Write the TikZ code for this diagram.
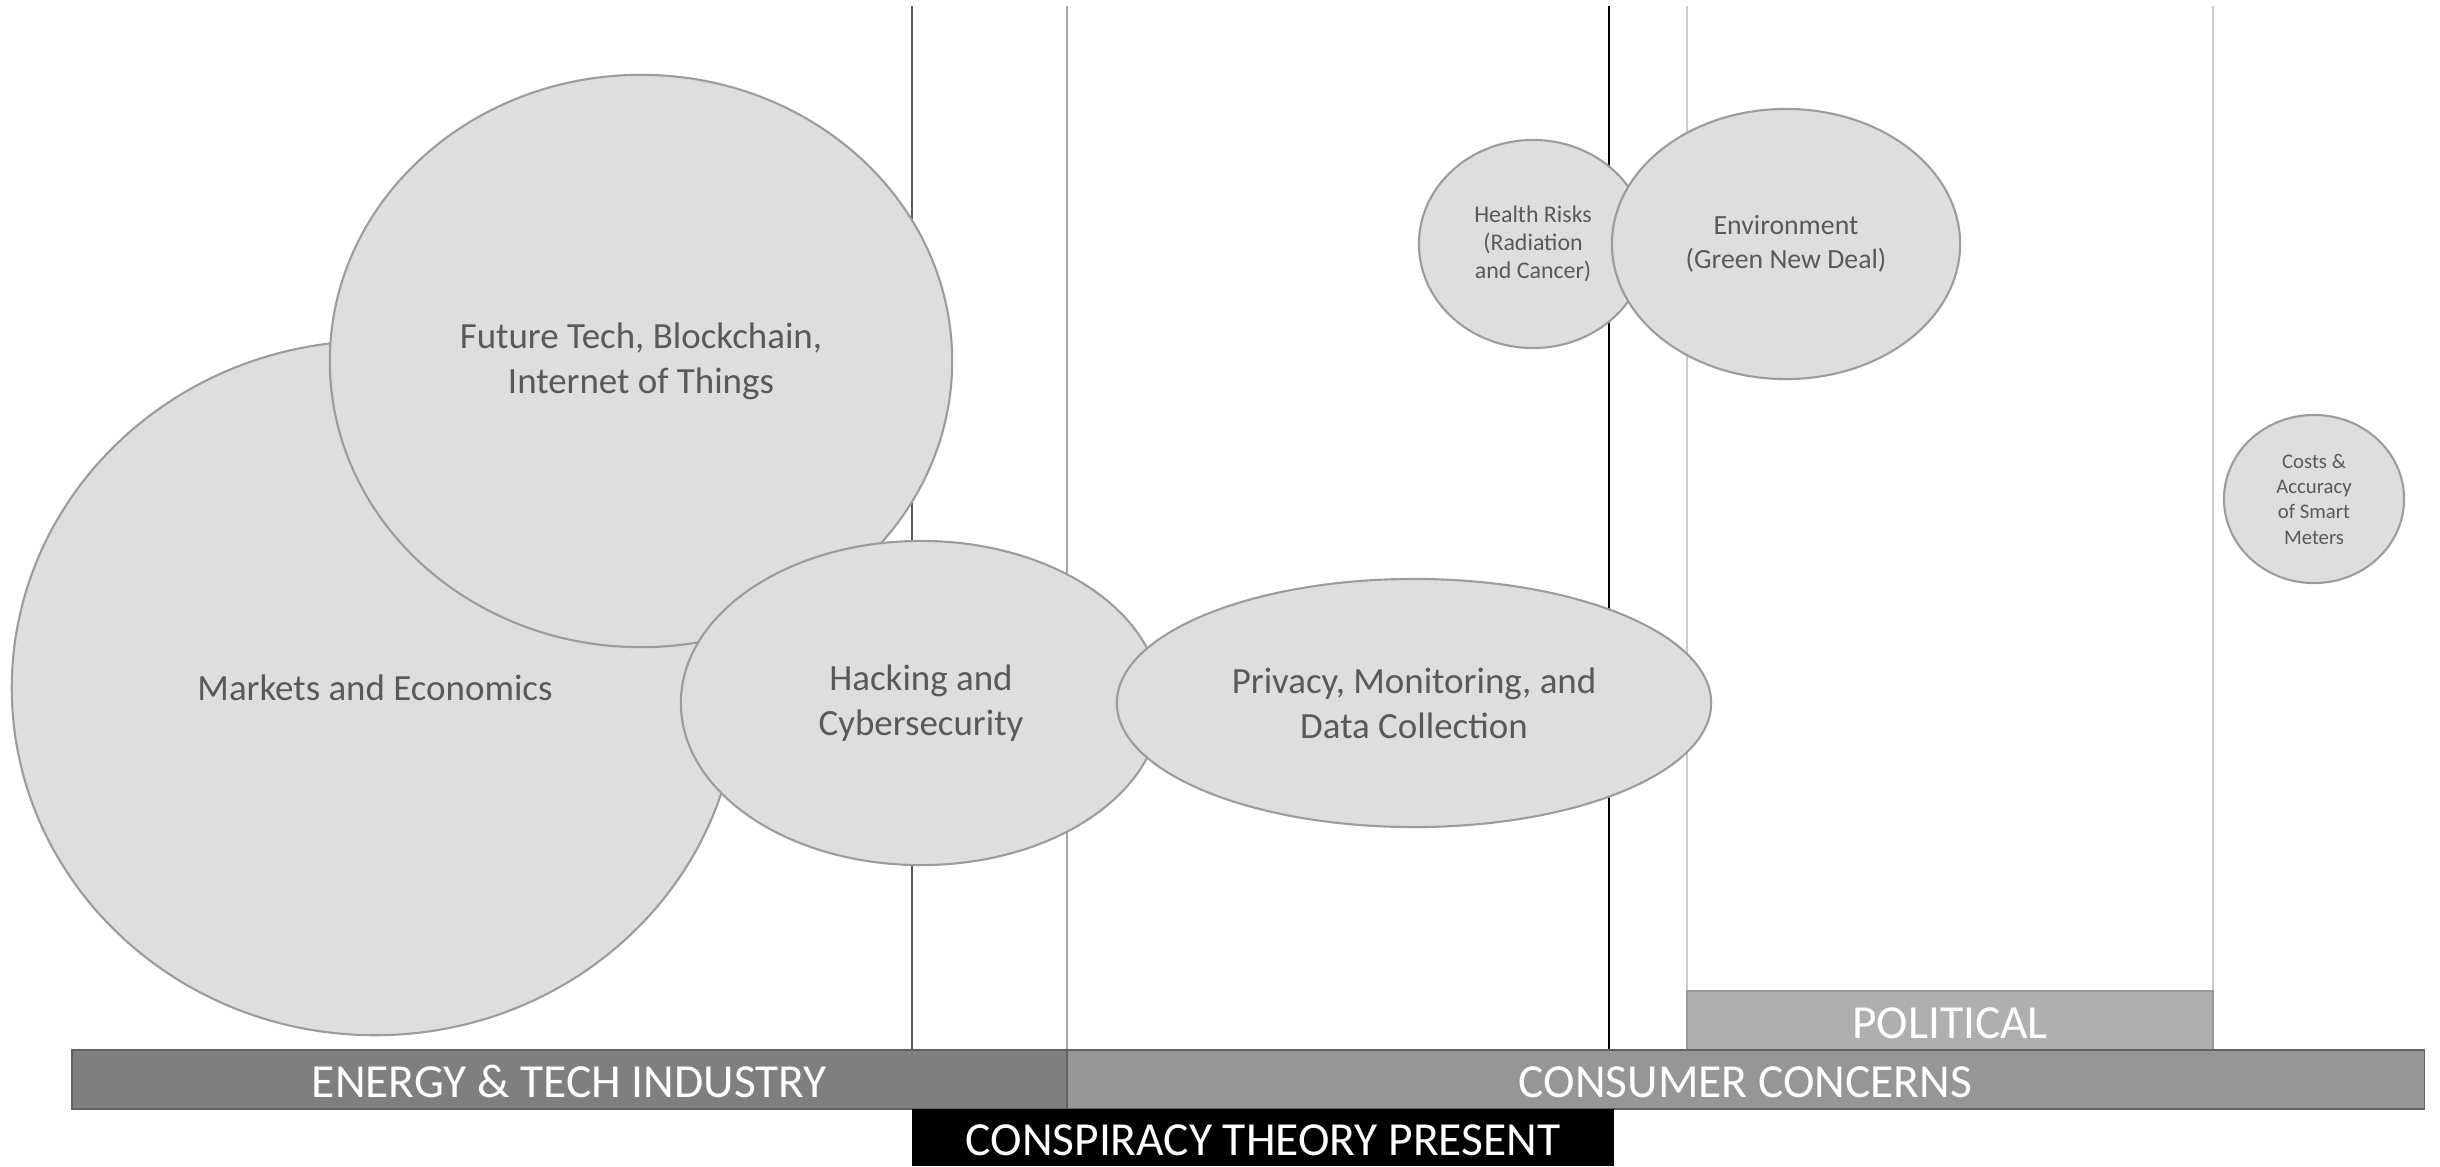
\documentclass[tikz,border=0pt]{standalone}
\usepackage{fontspec}
\setmainfont{Carlito}
\usetikzlibrary{shapes.geometric}

\definecolor{bubblefill}{HTML}{DEDEDE}
\definecolor{bubbleline}{HTML}{9C9C9C}
\definecolor{labeltext}{HTML}{595959}
\definecolor{energyfill}{HTML}{7F7F7F}
\definecolor{consumerfill}{HTML}{969696}
\definecolor{politicalfill}{HTML}{AFAFAF}

\tikzset{
  bubble/.style={ellipse, draw=bubbleline, fill=bubblefill, line width=0.6pt,
    inner sep=0pt, align=center, text=labeltext},
  bigtext/.style={font=\fontsize{10.5}{12.8}\selectfont},
  bar/.style={rectangle, inner sep=0pt, text=white, text height=10.4pt, text depth=0pt,
    font=\fontsize{13.5}{16}\selectfont}
}

\begin{document}
\begin{tikzpicture}[x=0.01cm, y=-0.01cm]

\useasboundingbox (0,0) rectangle (2440,1166);

% separators
\draw[color=black!65, line width=0.45pt] (912,6) -- (912,1050);

\draw[color=black!35, line width=0.4pt] (1067,6) -- (1067,1050);

\draw[color=black, line width=0.35pt] (1609,6) -- (1609,1050);

\draw[color=black!20, line width=0.35pt] (1687,6) -- (1687,991);

\draw[color=black!20, line width=0.35pt] (2213,6) -- (2213,991);

% topics
\node[bubble, bigtext, minimum width=7.26cm, minimum height=6.94cm] (markets) at (375,688) {Markets and Economics};

\node[bubble, bigtext, minimum width=6.22cm, minimum height=5.72cm] (futuretech) at (641,361) {Future Tech, Blockchain,\\Internet of Things};

\node[bubble, bigtext, minimum width=4.80cm, minimum height=3.24cm] (hacking) at (921,703) {Hacking and\\Cybersecurity};

\node[bubble, bigtext, minimum width=5.94cm, minimum height=2.48cm] (privacy) at (1414,703) {Privacy, Monitoring, and\\Data Collection};

\node[bubble, font=\fontsize{6.8}{8}\selectfont, minimum width=2.28cm, minimum height=2.08cm] (health) at (1533,244) {Health Risks\\(Radiation\\and Cancer)};

\node[bubble, font=\fontsize{7.9}{9.6}\selectfont, minimum width=3.48cm, minimum height=2.70cm] (environment) at (1786,244) {Environment\\(Green New Deal)};

\node[bubble, font=\fontsize{5.9}{7.2}\selectfont, minimum width=1.80cm, minimum height=1.68cm] (costs) at (2314,499) {Costs \&\\Accuracy\\of Smart\\Meters};

% categories
\node[bar, fill=politicalfill, draw=black!40, line width=0.4pt, minimum width=5.26cm, minimum height=0.59cm] (political) at (1950,1020.5) {POLITICAL};

\node[bar, fill=energyfill, draw=black!62, line width=0.5pt, minimum width=9.95cm, minimum height=0.59cm] (energy) at (569.5,1079.5) {ENERGY \& TECH INDUSTRY};

\node[bar, fill=consumerfill, draw=black!62, line width=0.5pt, minimum width=13.57cm, minimum height=0.59cm] (consumer) at (1745.5,1079.5) {CONSUMER CONCERNS};

\node[bar, fill=black, minimum width=7.02cm, minimum height=0.57cm] (conspiracy) at (1263,1137.5) {CONSPIRACY THEORY PRESENT};

\end{tikzpicture}
\end{document}
